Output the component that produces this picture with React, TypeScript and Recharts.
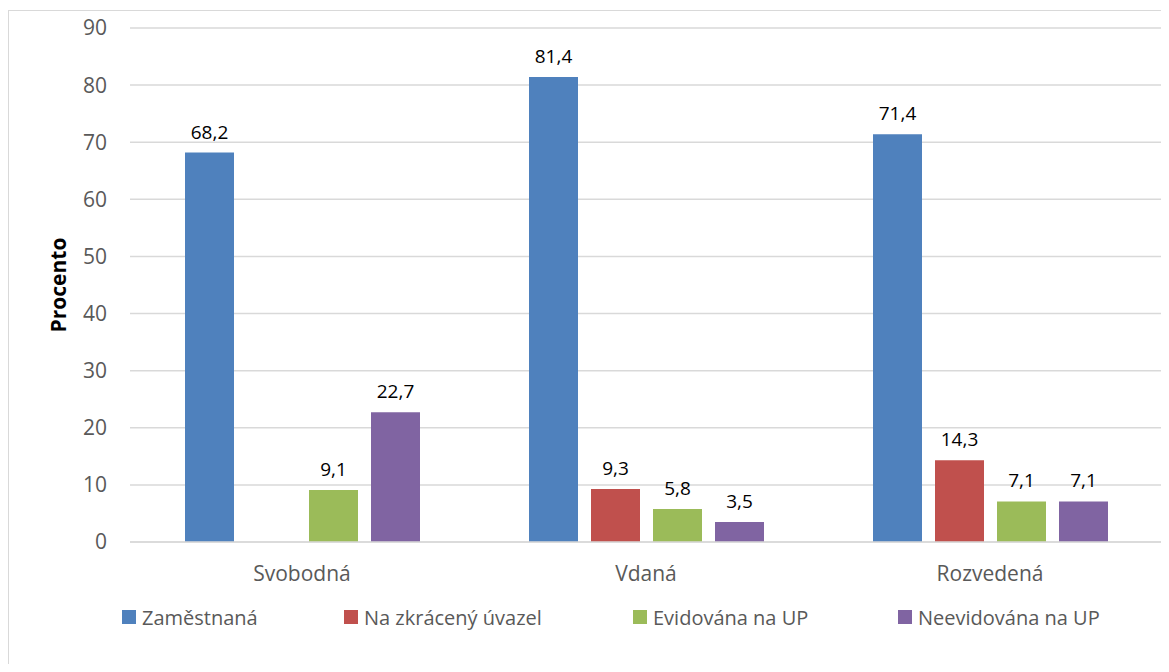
import { BarChart, Bar, XAxis, YAxis, CartesianGrid, Legend, LabelList } from 'recharts'

const categories = ['Svobodná', 'Vdaná', 'Rozvedená']
const zamestnana = [68.2, 81.4, 71.4]
const zkraceny = [null, 9.3, 14.3]
const evidovana = [9.1, 5.8, 7.1]
const neevidovana = [22.7, 3.5, 7.1]
const yTicks = [0, 10, 20, 30, 40, 50, 60, 70, 80, 90]

const series = [
  { key: 'zamestnana', name: 'Zaměstnaná', color: '#4F81BD' },
  { key: 'zkraceny', name: 'Na zkrácený úvazel', color: '#C0504D' },
  { key: 'evidovana', name: 'Evidována na UP', color: '#9BBB59' },
  { key: 'neevidovana', name: 'Neevidována na UP', color: '#8064A2' },
]

const data = categories.map((c, i) => ({
  category: c,
  zamestnana: zamestnana[i],
  zkraceny: zkraceny[i],
  evidovana: evidovana[i],
  neevidovana: neevidovana[i],
}))

const FONT = '"Open Sans", sans-serif'
const legendWidths = [222, 289, 265, 260]

const fmt = (v: any) => (v == null ? '' : Number(v).toFixed(1).replace('.', ','))

const LegendContent = () => (
  <div style={{ display: 'flex', paddingLeft: 113, fontFamily: FONT, fontSize: 20, color: '#595959', height: 32, alignItems: 'center' }}>
    {series.map((s, i) => (
      <div key={s.key} style={{ width: legendWidths[i], display: 'flex', alignItems: 'center', whiteSpace: 'nowrap' }}>
        <span style={{ display: 'inline-block', width: 14, height: 14, background: s.color, marginRight: 6 }} />
        <span>{s.name}</span>
      </div>
    ))}
  </div>
)

const YLabel = ({ viewBox }: any) => {
  const cx = viewBox.x + 49
  const cy = viewBox.y + viewBox.height / 2
  return (
    <text
      x={cx}
      y={cy}
      transform={`rotate(-90 ${cx} ${cy})`}
      textAnchor="middle"
      dominantBaseline="central"
      fontFamily={FONT}
      fontSize={21}
      fontWeight="bold"
      fill="#000"
    >
      Procento
    </text>
  )
}

export default function App() {
  return (
    <div
      style={{
        marginTop: 2,
        width: 1161,
        height: 654,
        boxSizing: 'border-box',
        borderTop: '1px solid #d9d9d9',
        borderLeft: '1px solid #d9d9d9',
        background: '#fff',
      }}
    >
      <BarChart
        width={1160}
        height={653}
        data={data}
        margin={{ top: 17, right: 7, bottom: 32, left: 0 }}
        barSize={49}
        barGap={13}
      >
        <CartesianGrid vertical={false} stroke="#d9d9d9" strokeWidth={1.5} />
        <XAxis
          dataKey="category"
          height={50}
          tickLine={false}
          tickSize={0}
          tickMargin={24}
          axisLine={{ stroke: '#d9d9d9', strokeWidth: 1.5 }}
          tick={{ fill: '#595959', fontSize: 21, fontFamily: FONT }}
        />
        <YAxis
          width={121}
          domain={[0, 90]}
          ticks={yTicks}
          interval={0}
          axisLine={false}
          tickLine={false}
          tickSize={0}
          tickMargin={23}
          tick={{ fill: '#595959', fontSize: 21, fontFamily: FONT }}
          label={{ content: YLabel }}
        />
        <Legend
          verticalAlign="bottom"
          content={LegendContent}
          wrapperStyle={{ top: 590, left: 0, height: 40, width: 1160 }}
        />
        {series.map((s) => (
          <Bar key={s.key} dataKey={s.key} name={s.name} fill={s.color} isAnimationActive={false}>
            <LabelList
              dataKey={s.key}
              position="top"
              offset={14}
              formatter={fmt}
              style={{ fill: '#000', fontSize: 19, fontFamily: FONT }}
            />
          </Bar>
        ))}
      </BarChart>
    </div>
  )
}
